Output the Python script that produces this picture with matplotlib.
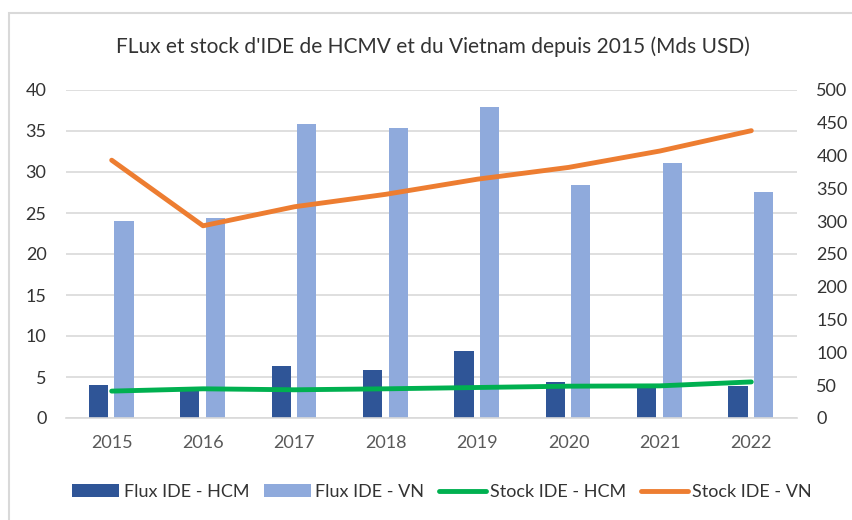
import numpy as np
import matplotlib
matplotlib.use("Agg")
import matplotlib.pyplot as plt
from matplotlib.patches import Rectangle

plt.rcParams['font.family'] = ['Lato', 'DejaVu Sans']

years = ['2015', '2016', '2017', '2018', '2019', '2020', '2021', '2022']
flux_hcm = [4.0, 3.6, 6.4, 5.8, 8.2, 4.35, 3.8, 3.9]
flux_vn = [24.0, 24.35, 35.8, 35.4, 37.9, 28.4, 31.05, 27.6]
stock_hcm = [41, 44.5, 43, 44.5, 46.5, 48.5, 49, 55]
stock_vn = [393, 293, 322, 341, 364, 382, 407, 438]

c_dark = '#2f5597'
c_light = '#8faadc'
c_green = '#00b050'
c_orange = '#ed7d31'

fig = plt.figure(figsize=(8.53, 5.2), dpi=100)
# frame of the chart area
fig.patches.append(Rectangle((9/853, -0.1), 1.2, (520-13)/520 + 0.1, transform=fig.transFigure,
                             fill=False, edgecolor='#d9d9d9', linewidth=1.5))

ax = fig.add_axes([66/853, 102/520, 731/853, 328/520])
x = np.arange(len(years))
w = 0.21
ax.bar(x - 0.145, flux_hcm, w, color=c_dark, label='Flux IDE - HCM', zorder=2)
ax.bar(x + 0.135, flux_vn, w, color=c_light, label='Flux IDE - VN', zorder=2)
ax.set_ylim(0, 40)
ax.set_xlim(-0.5, len(years) - 0.5)
ax.set_yticks(range(0, 41, 5))
ax.set_xticks(x)
ax.set_xticklabels(years)
ax.yaxis.grid(True, color='#d9d9d9', linewidth=1.2, zorder=0)
ax.set_axisbelow(True)
for s in ['top', 'right', 'left']:
    ax.spines[s].set_visible(False)
ax.spines['bottom'].set_color('#d9d9d9')
ax.spines['bottom'].set_linewidth(1.2)
ax.tick_params(axis='both', length=0, labelsize=13)
ax.tick_params(axis='x', colors='#595959', pad=12)
ax.tick_params(axis='y', colors='#333333', pad=14)

ax2 = ax.twinx()
ax2.plot(x, stock_hcm, color=c_green, linewidth=3.5, label='Stock IDE - HCM', solid_capstyle='round')
ax2.plot(x, stock_vn, color=c_orange, linewidth=3.5, label='Stock IDE - VN', solid_capstyle='round')
ax2.set_ylim(0, 500)
ax2.set_yticks(range(0, 501, 50))
for s in ['top', 'right', 'left', 'bottom']:
    ax2.spines[s].set_visible(False)
ax2.tick_params(axis='y', length=0, labelsize=13, colors='#333333', pad=14)

fig.text(433/853, 1 - 47/520, "FLux et stock d'IDE de HCMV et du Vietnam depuis 2015 (Mds USD)",
         ha='center', va='center', fontsize=15, color='#333333')

h1, l1 = ax.get_legend_handles_labels()
h2, l2 = ax2.get_legend_handles_labels()
fig.legend(h1 + h2, l1 + l2, loc='center', bbox_to_anchor=(442/853, 1 - 492/520), ncol=4,
           frameon=False, fontsize=13, handlelength=2.6, handletextpad=0.25, columnspacing=0.8,
           labelcolor='#333333')

fig.savefig('out.png', dpi=100)
